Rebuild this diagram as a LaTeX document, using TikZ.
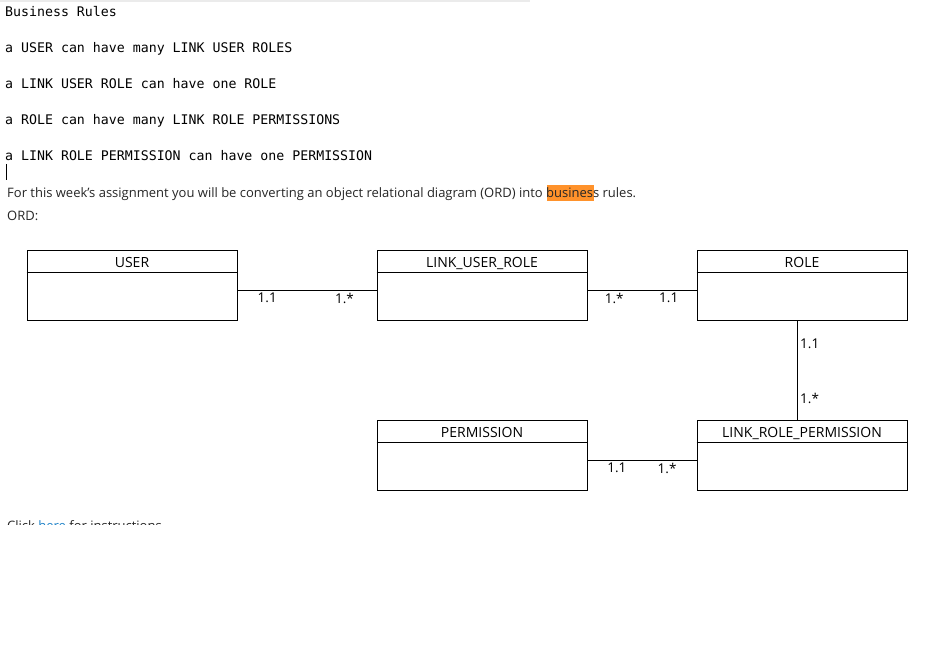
\documentclass[tikz,border=0pt]{standalone}
\usepackage{fontspec}
\setmainfont{Open Sans}
\newfontfamily\monofont{DejaVu Sans Mono}
\newfontfamily\boxfont{Open Sans}
\definecolor{hilite}{RGB}{255,146,43}
\definecolor{linkblue}{RGB}{30,130,200}
\definecolor{rulegray}{RGB}{235,235,235}
\begin{document}
\begin{tikzpicture}[x=1pt,y=-1pt,
        rule/.style={anchor=base west,inner sep=0pt,font=\monofont\fontsize{13.25}{15}\selectfont},
        prose/.style={anchor=base west,inner sep=0pt,font=\fontsize{13}{15}\selectfont,text=black!85},
        entity/.style={draw,line width=1pt,minimum width=210pt,minimum height=70pt,inner sep=0pt},
        title/.style={anchor=north,inner sep=0pt,yshift=-8pt,font=\boxfont\fontsize{14}{16}\selectfont},
        mult/.style={inner sep=3pt,font=\boxfont\fontsize{13.5}{15}\selectfont}]
\useasboundingbox[fill=white] (0,0) rectangle (947,647);

\draw[rulegray,line width=1.5pt] (0,1) -- (530,1);
\node[rule] (br) at (5,17) {Business Rules};
\node[rule] (r1) at (5,53) {a USER can have many LINK USER ROLES};
\node[rule] (r2) at (5,89) {a LINK USER ROLE can have one ROLE};
\node[rule] (r3) at (5,125) {a ROLE can have many LINK ROLE PERMISSIONS};
\node[rule] (r4) at (5,161) {a LINK ROLE PERMISSION can have one PERMISSION};
\draw[thin] (6,164) -- (6,180);

\fill[hilite] (547,185) rectangle (594,201);
\node[prose] (intro) at (7,197) {For this week’s assignment you will be converting an object relational diagram (ORD) into business rules.};
\node[prose] (ord) at (7,220) {ORD:};

% entities
\node[entity] (user) at (132,285) {};
\node[entity] (linkur) at (482,285) {};
\node[entity] (role) at (802,285) {};
\node[entity] (perm) at (482,455) {};
\node[entity] (linkrp) at (802,455) {};

\node[title] at (user.north) {USER};
\node[title] at (linkur.north) {LINK\_USER\_ROLE};
\node[title] at (role.north) {ROLE};
\node[title] at (perm.north) {PERMISSION};
\node[title] at (linkrp.north) {LINK\_ROLE\_PERMISSION};

\foreach \e in {user,linkur,role,perm,linkrp}
    \draw ([yshift=-23pt]\e.north west) -- ([yshift=-23pt]\e.north east);

% relationships
\draw ([yshift=-5pt]user.east) -- ([yshift=-5pt]linkur.west)
    node[mult,pos=0.214,below] {1.1} node[mult,pos=0.77,below] {1.*};
\draw ([yshift=-5pt]linkur.east) -- ([yshift=-5pt]role.west)
    node[mult,pos=0.245,below] {1.*} node[mult,pos=0.745,below] {1.1};
\draw ([xshift=-5pt]role.south) -- ([xshift=-5pt]linkrp.north)
    node[mult,pos=0.24,right] {1.1} node[mult,pos=0.79,right] {1.*};
\draw ([yshift=-5pt]perm.east) -- ([yshift=-5pt]linkrp.west)
    node[mult,pos=0.27,below] {1.1} node[mult,pos=0.73,below] {1.*};

\begin{scope}
\clip (0,505) rectangle (300,524);
\node[prose] (click) at (7,530) {Click \textcolor{linkblue}{here} for instructions};
\end{scope}
\end{tikzpicture}
\end{document}
